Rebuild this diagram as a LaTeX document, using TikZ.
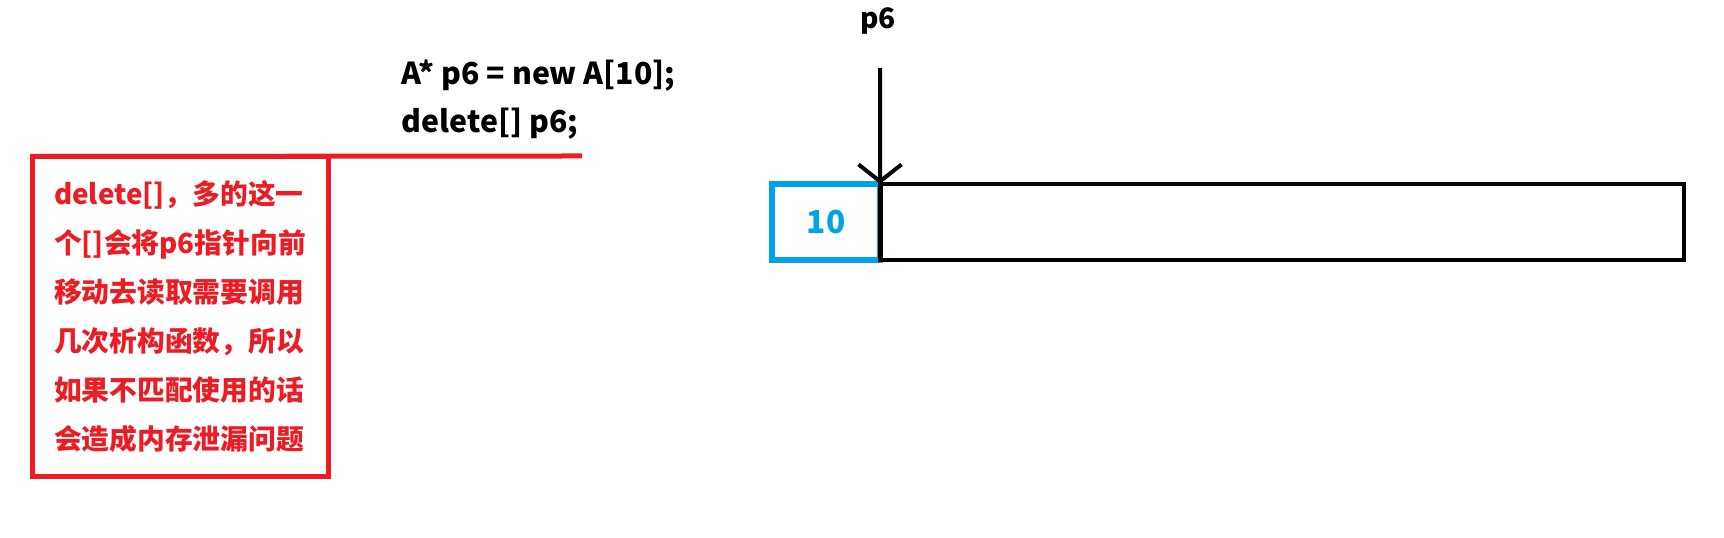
\documentclass[tikz,border=0pt]{standalone}
\usepackage{fontspec}
\setmainfont{Noto Sans CJK SC}
\usetikzlibrary{arrows.meta}
\definecolor{paintred}{RGB}{237,28,36}
\definecolor{paintblue}{RGB}{0,162,232}
\begin{document}
\begin{tikzpicture}[scale=1,
		cell/.style={draw,line width=0.045cm,minimum height=0.76cm,inner sep=0,outer sep=0},
		code/.style={anchor=base west,inner sep=0,font=\fontsize{8.6}{10}\selectfont\bfseries}]
		\useasboundingbox(0,0) rectangle (17.24,5.38);
		\node[code](l1) at (4.01,4.53) {A* p6 = new A[10];};
		\node[code](l2) at (4.01,4.05) {delete[] p6;};
		\node[cell,draw=paintblue,text=paintblue,line width=0.055cm,minimum width=1.08cm,font=\fontsize{9}{10}\selectfont\bfseries](cnt) at (8.26,3.16) {10};
		\node[cell,minimum width=8.035cm](arr) at (12.82,3.16) {};
		\node[anchor=base,inner sep=0,font=\fontsize{8}{9}\selectfont\bfseries](p) at (8.78,5.09) {p6};
		\coordinate(ptr) at (8.80,4.70);
		\draw[line width=0.04cm,-{Straight Barb[length=1.7mm,width=4.3mm]}](ptr) -- (cnt.north east);
		\node[draw=paintred,text=paintred,line width=0.05cm,outer sep=0,minimum width=2.96cm,minimum height=3.2cm,align=left,font=\fontsize{7.9}{13.9}\selectfont\bfseries](note) at (1.80,2.215) {delete[]，多的这一\\个[]会将p6指针向前\\移动去读取需要调用\\几次析构函数，所以\\如果不匹配使用的话\\会造成内存泄漏问题};
		\coordinate(tail) at (5.82,3.82);
		\draw[paintred,line width=0.05cm](note.north west) -- (tail);
\end{tikzpicture}
\end{document}
